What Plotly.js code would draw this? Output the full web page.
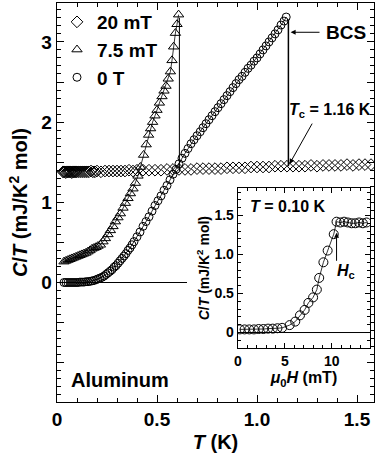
<!DOCTYPE html>
<html>
<head>
<meta charset="utf-8">
<script src="https://cdn.plot.ly/plotly-3.0.1.min.js"></script>
<style>
html,body{margin:0;padding:0;background:#fff;}
#plot{width:382px;height:457px;}
</style>
</head>
<body>
<div id="plot"></div>
<script>
// ---- 20 mT (normal state) ----
var T20 = [0.03,0.035,0.04,0.045,0.05,0.055,0.06,0.065,0.07,0.075,0.08,0.085,0.09,0.095,0.10,0.11,0.12,0.13,0.14,0.15,0.16,0.17,0.18,0.19,0.20,0.22,0.24,0.26,0.28,0.30,0.32,0.34,0.36,0.38,0.40,0.43,0.46,0.49,0.52,0.55,0.58,0.61,0.64,0.67,0.70,0.73,0.76,0.79,0.82,0.85,0.88,0.91,0.94,0.97,1.00,1.03,1.06,1.09,1.12,1.15,1.18,1.21,1.24,1.27,1.30,1.33,1.36,1.39,1.42,1.45,1.48,1.51,1.54,1.57];
var C20 = [1.38,1.38,1.38,1.37,1.38,1.38,1.38,1.38,1.38,1.37,1.38,1.38,1.38,1.38,1.38,1.38,1.38,1.38,1.38,1.38,1.38,1.39,1.38,1.38,1.39,1.38,1.39,1.39,1.39,1.39,1.39,1.39,1.40,1.39,1.40,1.40,1.40,1.40,1.40,1.41,1.41,1.41,1.41,1.41,1.42,1.42,1.42,1.42,1.42,1.43,1.43,1.43,1.43,1.44,1.44,1.44,1.44,1.45,1.45,1.45,1.45,1.45,1.45,1.46,1.45,1.46,1.46,1.46,1.46,1.47,1.46,1.47,1.47,1.47];

// ---- 7.5 mT ----
var T75 = [0.035,0.045,0.055,0.065,0.075,0.085,0.095,0.105,0.115,0.125,0.135,0.145,0.155,0.165,0.175,0.185,0.195,0.205,0.217,0.23,0.242,0.255,0.267,0.28,0.292,0.305,0.317,0.33,0.342,0.355,0.367,0.38,0.392,0.405,0.417,0.433,0.446,0.458,0.468,0.478,0.49,0.50,0.512,0.525,0.535,0.545,0.556,0.567,0.575,0.583,0.592,0.600,0.608];
var C75 = [0.26,0.27,0.28,0.29,0.30,0.31,0.32,0.33,0.34,0.35,0.36,0.37,0.385,0.40,0.42,0.43,0.44,0.455,0.47,0.51,0.55,0.60,0.65,0.70,0.76,0.81,0.86,0.93,0.99,1.05,1.11,1.17,1.24,1.33,1.44,1.59,1.72,1.84,1.92,2.00,2.08,2.15,2.24,2.32,2.39,2.45,2.54,2.63,2.77,2.94,3.11,3.22,3.34];

// ---- 0 T ----
var T0 = [0.035,0.045,0.055,0.065,0.075,0.085,0.095,0.105,0.115,0.125,0.135,0.145,0.155,0.165,0.175,0.185,0.195,0.205,0.215,0.225,0.235,0.245,0.255,0.265,0.275,0.285,0.295,0.305,0.315,0.325,0.335,0.345,0.355,0.365,0.375,0.385,0.40,0.415,0.43,0.445,0.46,0.475,0.49,0.505,0.52,0.535,0.55,0.565,0.58,0.595,0.61,0.625,0.64,0.655,0.67,0.685,0.70,0.716,0.73,0.745,0.76,0.775,0.79,0.805,0.82,0.835,0.85,0.865,0.88,0.895,0.91,0.925,0.94,0.955,0.97,0.985,1.00,1.015,1.03,1.045,1.06,1.075,1.09,1.105,1.12,1.135,1.146];
var C0 = [0.0,0.0,0.0,0.0,0.0,0.0,0.0,0.0,0.005,0.005,0.005,0.01,0.01,0.015,0.02,0.025,0.035,0.045,0.055,0.065,0.08,0.10,0.12,0.14,0.16,0.19,0.21,0.24,0.27,0.30,0.33,0.36,0.40,0.43,0.47,0.51,0.57,0.63,0.70,0.76,0.82,0.89,0.96,1.02,1.08,1.15,1.21,1.28,1.35,1.41,1.48,1.55,1.61,1.67,1.73,1.78,1.83,1.88,1.93,1.98,2.03,2.08,2.13,2.18,2.23,2.28,2.33,2.38,2.43,2.48,2.53,2.57,2.62,2.67,2.71,2.76,2.80,2.85,2.90,2.95,3.00,3.05,3.10,3.15,3.21,3.26,3.31];

// ---- jumps at the transitions ----
var jumpT75 = [0.612, 0.612];
var jumpC75 = [3.30, 1.40];
var jumpT0 = [1.157, 1.157];
var jumpC0 = [3.28, 1.45];
var zeroT = [0, 0.65];
var zeroC = [0, 0];

// ---- inset: C/T vs field at T = 0.10 K ----
var H = [0.2,0.7,1.2,1.7,2.2,2.7,3.2,3.7,4.2,4.7,5.5,6.1,6.6,7.1,7.5,8.0,8.4,8.65,9.1,9.55,10.2,10.5,10.9,11.3,11.7,12.1,12.5,12.9,13.3,13.7];
var CH = [0.04,0.04,0.04,0.04,0.045,0.045,0.05,0.05,0.055,0.06,0.095,0.14,0.22,0.29,0.38,0.45,0.55,0.70,0.90,1.05,1.26,1.42,1.41,1.42,1.41,1.40,1.40,1.41,1.40,1.41];
var zeroH = [0, 14.05];
var zeroCH = [0, 0];

// tick labels
var xTickVals = [0, 0.5, 1.0, 1.5];
var xTickText = ['0', '0.5', '1.0', '1.5'];
var yTickVals = [-1.5,-1,-0.5,0,0.5,1,1.5,2,2.5,3,3.5];
var yTickText = ['','','','0','','1','','2','','3',''];
var x2TickVals = [0, 5, 10];
var x2TickText = ['0', '5', '10'];
var y2TickVals = [0, 0.5, 1.0, 1.5];
var y2TickText = ['0', '0.5', '1.0', '1.5'];

var FONT = 'Liberation Sans, Arial, Helvetica, sans-serif';
function f(sz) { return {family: FONT, size: sz, color: 'black', weight: 'bold'}; }
var lineStyle = {color: 'black', width: 0.8};

var traces = [
  {x: T20, y: C20, mode: 'markers', name: '20 mT', xaxis: 'x', yaxis: 'y',
   marker: {symbol: 'diamond-open', size: 9, color: 'black', line: {width: 1, color: 'black'}}},
  {x: T75, y: C75, mode: 'markers', name: '7.5 mT', xaxis: 'x', yaxis: 'y',
   marker: {symbol: 'triangle-up-open', size: 9, color: 'black', line: {width: 1, color: 'black'}}},
  {x: T0, y: C0, mode: 'markers', name: '0 T', xaxis: 'x', yaxis: 'y',
   marker: {symbol: 'circle-open', size: 8, color: 'black', line: {width: 1, color: 'black'}}},
  {x: T75, y: C75, mode: 'lines', showlegend: false, line: lineStyle, xaxis: 'x', yaxis: 'y'},
  {x: T0, y: C0, mode: 'lines', showlegend: false, line: lineStyle, xaxis: 'x', yaxis: 'y'},
  {x: jumpT75, y: jumpC75, mode: 'lines', showlegend: false, line: {color: 'black', width: 1}, xaxis: 'x', yaxis: 'y'},
  {x: jumpT0, y: jumpC0, mode: 'lines', showlegend: false, line: {color: 'black', width: 1.5}, xaxis: 'x', yaxis: 'y'},
  {x: zeroT, y: zeroC, mode: 'lines', showlegend: false, line: {color: 'black', width: 1}, xaxis: 'x', yaxis: 'y'},
  {x: zeroH, y: zeroCH, mode: 'lines', showlegend: false, line: {color: 'black', width: 1}, xaxis: 'x2', yaxis: 'y2'},
  {x: H, y: CH, mode: 'lines+markers', showlegend: false, xaxis: 'x2', yaxis: 'y2',
   line: lineStyle,
   marker: {symbol: 'circle-open', size: 9, color: 'black', line: {width: 1, color: 'black'}}}
];

var axBase = {
  showline: true, linecolor: 'black', linewidth: 1.3, mirror: 'allticks',
  ticks: 'inside', tickcolor: 'black', tickwidth: 1, showgrid: false, zeroline: false,
  tickmode: 'array', fixedrange: true
};

var layout = {
  width: 382, height: 457,
  margin: {l: 57, r: 8, t: 3, b: 55},
  paper_bgcolor: 'white', plot_bgcolor: 'white',
  font: f(19),
  showlegend: true,
  legend: {x: 0.0, y: 1.0, xanchor: 'left', yanchor: 'top', bgcolor: 'rgba(0,0,0,0)',
           font: f(19), tracegroupgap: 0, itemwidth: 30},
  xaxis: Object.assign({}, axBase, {
    domain: [0, 1], range: [0, 1.585], anchor: 'y',
    tickvals: xTickVals, ticktext: xTickText, ticklen: 7,
    tickfont: f(19),
    minor: {dtick: 0.1, tick0: 0, ticklen: 4, ticks: 'inside', tickcolor: 'black', showgrid: false},
    title: {text: '<i>T</i> (K)', font: f(20), standoff: 6}
  }),
  yaxis: Object.assign({}, axBase, {
    domain: [0, 1], range: [-1.49, 3.485], anchor: 'x',
    tickvals: yTickVals, ticktext: yTickText, ticklen: 7,
    tickfont: f(19),
    minor: {dtick: 0.1, tick0: 0, ticklen: 4, ticks: 'inside', tickcolor: 'black', showgrid: false},
    title: {text: '<i>C</i>/<i>T</i> (mJ/K<sup>2</sup> mol)', font: f(20), standoff: 8}
  }),
  xaxis2: Object.assign({}, axBase, {
    domain: [0.571, 0.987], range: [0, 14.05], anchor: 'y2',
    tickvals: x2TickVals, ticktext: x2TickText, ticklen: 5,
    tickfont: f(14),
    minor: {dtick: 1, tick0: 0, ticklen: 3, ticks: 'inside', tickcolor: 'black', showgrid: false},
    title: {text: '<i>μ</i><sub>0</sub><i>H</i> (mT)', font: f(16), standoff: 2}
  }),
  yaxis2: Object.assign({}, axBase, {
    domain: [0.135, 0.536], range: [-0.2, 1.85], anchor: 'x2',
    tickvals: y2TickVals, ticktext: y2TickText, ticklen: 5,
    tickfont: f(14),
    minor: {dtick: 0.1, tick0: 0, ticklen: 3, ticks: 'inside', tickcolor: 'black', showgrid: false},
    title: {text: '<i>C</i>/<i>T</i> (mJ/K<sup>2</sup> mol)', font: f(14), standoff: 1}
  }),
  annotations: [
    {xref: 'x', yref: 'y', x: 1.445, y: 3.12, text: 'BCS', showarrow: false, font: f(19)},
    {xref: 'x', yref: 'y', x: 1.168, y: 3.12, ax: 1.32, ay: 3.12, axref: 'x', ayref: 'y',
     text: '', showarrow: true, arrowhead: 2, arrowsize: 1, arrowwidth: 1, arrowcolor: 'black'},
    {xref: 'x', yref: 'y', x: 1.365, y: 2.15, text: '<i>T</i><sub>c</sub> = 1.16 K', showarrow: false, font: f(16)},
    {xref: 'x', yref: 'y', x: 1.163, y: 1.48, ax: 1.28, ay: 2.0, axref: 'x', ayref: 'y',
     text: '', showarrow: true, arrowhead: 2, arrowsize: 1, arrowwidth: 1, arrowcolor: 'black'},
    {xref: 'x', yref: 'y', x: 0.317, y: -1.216, text: 'Aluminum', showarrow: false, font: f(20)},
    {xref: 'x2', yref: 'y2', x: 5.35, y: 1.61, text: '<i>T</i> = 0.10 K', showarrow: false, font: f(16)},
    {xref: 'x2', yref: 'y2', x: 10.5, y: 1.28, ax: 10.5, ay: 0.9, axref: 'x2', ayref: 'y2',
     text: '', showarrow: true, arrowhead: 2, arrowsize: 1, arrowwidth: 1, arrowcolor: 'black'},
    {xref: 'x2', yref: 'y2', x: 11.5, y: 0.78, text: '<i>H</i><sub>c</sub>', showarrow: false, font: f(16)}
  ]
};

Plotly.newPlot('plot', traces, layout, {staticPlot: true, displayModeBar: false});
</script>
</body>
</html>
